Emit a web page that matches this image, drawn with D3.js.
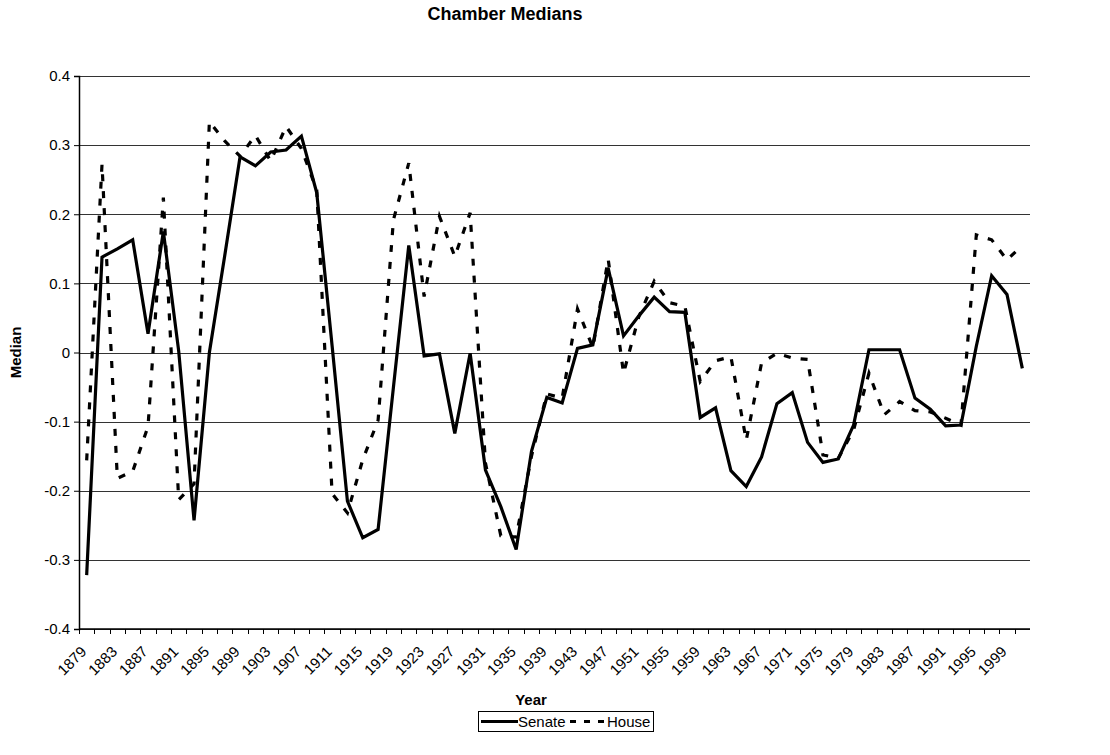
<!DOCTYPE html>
<meta charset="utf-8">
<style>
  body { margin: 0; background: #fff; }
  svg { display: block; font-family: Arial, "Liberation Sans", sans-serif; }
  .grid line { stroke: #333; stroke-width: 1px; shape-rendering: crispEdges; }
  .grid path { display: none; }
  .axis path, .axis line { stroke: #000; }
  .line { fill: none; stroke: #000; stroke-width: 3.2px; }
  .house { stroke-dasharray: 7, 10; }
  .legend .house { stroke-dasharray: 6, 8; }
</style>
<svg width="1110" height="755"></svg>
<script src="https://d3js.org/d3.v7.min.js"></script>
<script>
  // Congress start years, one per category
  var years = [1879, 1881, 1883, 1885, 1887, 1889, 1891, 1893, 1895, 1897,
    1899, 1901, 1903, 1905, 1907, 1909, 1911, 1913, 1915, 1917,
    1919, 1921, 1923, 1925, 1927, 1929, 1931, 1933, 1935, 1937,
    1939, 1941, 1943, 1945, 1947, 1949, 1951, 1953, 1955, 1957,
    1959, 1961, 1963, 1965, 1967, 1969, 1971, 1973, 1975, 1977,
    1979, 1981, 1983, 1985, 1987, 1989, 1991, 1993, 1995, 1997,
    1999, 2001];

  var senate = [-0.322, 0.138, 0.150, 0.163, 0.027, 0.175, 0.002, -0.243, 0.0, 0.14,
    0.283, 0.270, 0.290, 0.293, 0.313, 0.231, 0.01, -0.215, -0.268, -0.256,
    -0.05, 0.155, -0.005, -0.002, -0.117, -0.001, -0.170, -0.223, -0.285, -0.143,
    -0.065, -0.073, 0.006, 0.011, 0.122, 0.024, 0.053, 0.080, 0.059, 0.058,
    -0.094, -0.080, -0.171, -0.194, -0.151, -0.074, -0.058, -0.130, -0.159, -0.154,
    -0.105, 0.004, 0.004, 0.004, -0.066, -0.082, -0.106, -0.105, 0.009, 0.111,
    0.084, -0.023];

  var house = [-0.156, 0.272, -0.182, -0.172, -0.107, 0.224, -0.213, -0.190, 0.334, 0.306,
    0.284, 0.314, 0.277, 0.327, 0.295, 0.235, -0.204, -0.232, -0.155, -0.098,
    0.192, 0.274, 0.081, 0.197, 0.139, 0.202, -0.160, -0.265, -0.267, -0.150,
    -0.060, -0.066, 0.063, 0.007, 0.135, -0.030, 0.052, 0.103, 0.072, 0.067,
    -0.042, -0.012, -0.006, -0.127, -0.015, -0.001, -0.008, -0.010, -0.148, -0.153,
    -0.112, -0.030, -0.090, -0.071, -0.084, -0.086, -0.095, -0.105, 0.170, 0.163,
    0.134, 0.155];

  var yTicks = [0.4, 0.3, 0.2, 0.1, 0, -0.1, -0.2, -0.3, -0.4];

  var svg = d3.select("svg");
  var margin = { top: 76, right: 80, bottom: 126, left: 79 },
    width = +svg.attr("width") - margin.left - margin.right,
    height = +svg.attr("height") - margin.top - margin.bottom;

  var x = d3.scaleBand().domain(years).range([0, width]).paddingInner(0).paddingOuter(0);
  var bw = x.bandwidth();
  var y = d3.scaleLinear().domain([-0.4, 0.4]).range([height, 0]);

  var g = svg.append("g")
    .attr("transform", "translate(" + margin.left + "," + margin.top + ")");

  // Gridlines
  g.append("g")
    .attr("class", "grid")
    .call(d3.axisLeft(y).tickValues(yTicks).tickSize(-width).tickFormat(""));

  // Lines
  var line = d3.line()
    .x(function (d, i) { return x(years[i]) + bw / 2; })
    .y(function (d) { return y(d); });

  g.append("path").datum(house).attr("class", "line house").attr("d", line);
  g.append("path").datum(senate).attr("class", "line senate").attr("d", line);

  // Y axis
  var yAxis = g.append("g")
    .attr("class", "axis")
    .call(d3.axisLeft(y).tickValues(yTicks).tickSize(5).tickPadding(4)
      .tickFormat(function (d) { return d === 0 ? "0" : String(+d.toFixed(1)); }));
  yAxis.select(".domain").attr("stroke-width", 1.5);
  yAxis.selectAll("text").style("font-size", "15px").attr("fill", "#000");

  // X axis: baseline plus tick marks on category boundaries
  var xAxis = g.append("g").attr("class", "axis")
    .attr("transform", "translate(0," + height + ")");
  xAxis.append("line")
    .attr("x1", 0).attr("x2", width)
    .attr("stroke-width", 1.5);
  xAxis.selectAll(".tick")
    .data(years)
    .enter().append("line")
    .attr("class", "tick")
    .attr("x1", function (d) { return Math.round(x(d)) + 0.5; })
    .attr("x2", function (d) { return Math.round(x(d)) + 0.5; })
    .attr("y1", 0).attr("y2", 5);

  xAxis.selectAll(".lbl")
    .data(years.filter(function (d, i) { return i % 2 === 0; }))
    .enter().append("text")
    .attr("class", "lbl")
    .attr("transform", function (d) {
      return "translate(" + (x(d) + bw / 2 - 3) + ",20) rotate(-45)";
    })
    .attr("text-anchor", "end")
    .attr("dy", "0.35em")
    .style("font-size", "15px")
    .text(function (d) { return d; });

  // Titles
  svg.append("text")
    .attr("x", 505).attr("y", 20)
    .attr("text-anchor", "middle")
    .style("font-size", "18px").style("font-weight", "bold")
    .text("Chamber Medians");

  svg.append("text")
    .attr("x", 531).attr("y", 705)
    .attr("text-anchor", "middle")
    .style("font-size", "15px").style("font-weight", "bold")
    .text("Year");

  svg.append("text")
    .attr("transform", "translate(21," + (margin.top + y(0)) + ") rotate(-90)")
    .attr("text-anchor", "middle")
    .style("font-size", "15px").style("font-weight", "bold")
    .text("Median");

  // Legend
  var legend = svg.append("g").attr("class", "legend").attr("transform", "translate(478,711)");
  legend.append("rect")
    .attr("x", 0.5).attr("y", 0.5).attr("width", 175).attr("height", 20)
    .attr("fill", "#fff").attr("stroke", "#000");
  legend.append("line").attr("class", "line")
    .attr("x1", 3).attr("x2", 40).attr("y1", 10.5).attr("y2", 10.5);
  legend.append("text").attr("x", 40).attr("y", 16)
    .style("font-size", "15px").text("Senate");
  legend.append("line").attr("class", "line house")
    .attr("x1", 92).attr("x2", 126).attr("y1", 10.5).attr("y2", 10.5);
  legend.append("text").attr("x", 129).attr("y", 16)
    .style("font-size", "15px").text("House");
</script>
